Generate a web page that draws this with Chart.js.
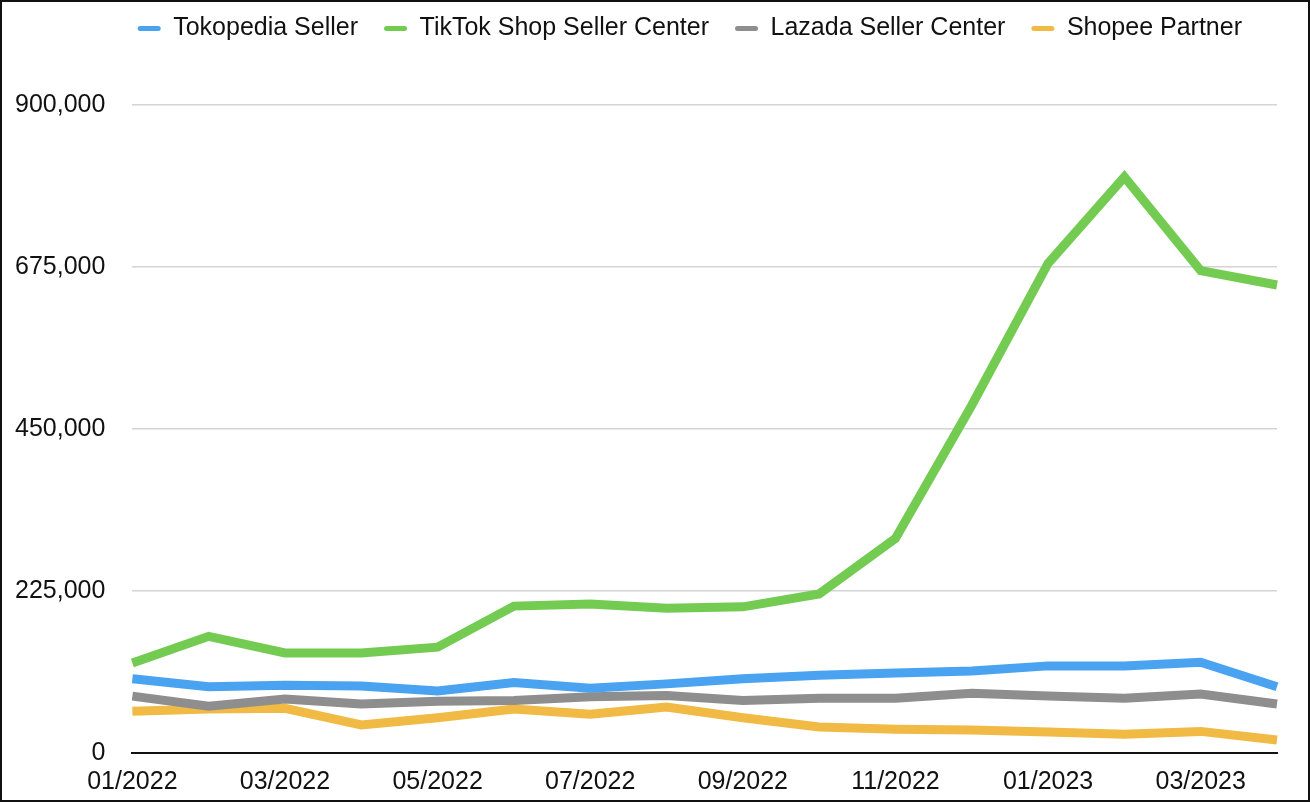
<!DOCTYPE html>
<html>
<head>
<meta charset="utf-8">
<script src="https://cdn.jsdelivr.net/npm/chart.js@4"></script>
<style>
    html, body { margin: 0; padding: 0; background: #fff; }
    #frame { width: 1310px; height: 802px; box-sizing: border-box; border: 2px solid #111; }
    canvas { display: block; }
</style>
</head>
<body>
<div id="frame"><canvas id="chart" width="1306" height="798"></canvas></div>
<script>
// months shown on x axis
var months = ['01/2022', '02/2022', '03/2022', '04/2022', '05/2022', '06/2022', '07/2022', '08/2022',
    '09/2022', '10/2022', '11/2022', '12/2022', '01/2023', '02/2023', '03/2023', '04/2023'];

var tokopedia = [103000, 92000, 94000, 93000, 86000, 98000, 90000, 96000, 103000, 108000, 111000, 114000, 121000, 121000, 126000, 92000];
var tiktok = [125000, 162000, 139000, 139000, 147000, 204000, 207000, 201000, 203000, 221000, 298000, 483000, 680000, 800000, 670000, 650000];
var lazada = [79000, 65000, 75000, 68000, 72000, 73000, 78000, 80000, 73000, 76000, 76000, 83000, 79000, 76000, 82000, 68000];
var shopee = [58000, 61000, 62000, 39000, 49000, 61000, 54000, 64000, 49000, 36000, 33000, 32000, 29000, 26000, 30000, 18000];

var yTicks = [0, 225000, 450000, 675000, 900000];

var FONT = '"Liberation Sans", Arial, Helvetica, sans-serif';

function series(label, data, color) {
    return {
        label: label,
        data: data,
        borderColor: color,
        backgroundColor: color,
        borderWidth: 9,
        pointRadius: 0,
        tension: 0,
        fill: false,
        borderJoinStyle: 'miter',
        borderCapStyle: 'butt'
    };
}

// nudge the legend a little to the left of the plot's right edge
var legendShift = {
    id: 'legendShift',
    afterLayout: function (chart) {
        if (chart.legend) {
            chart.legend.right -= 9;
            chart.legend.adjustHitBoxes && chart.legend.adjustHitBoxes();
        }
    }
};

var ctx = document.getElementById('chart').getContext('2d');
window.chart = new Chart(ctx, {
    type: 'line',
    data: {
        labels: months,
        datasets: [
            series('Tokopedia Seller', tokopedia, '#4aa3f0'),
            series('TikTok Shop Seller Center', tiktok, '#74cb52'),
            series('Lazada Seller Center', lazada, '#8e8e8e'),
            series('Shopee Partner', shopee, '#f0ba44')
        ]
    },
    plugins: [legendShift],
    options: {
        responsive: false,
        animation: false,
        layout: { padding: { left: -14, right: 31, top: -12, bottom: -11 } },
        plugins: {
            tooltip: { enabled: false },
            legend: {
                position: 'top',
                align: 'end',
                labels: {
                    color: '#111',
                    font: { family: FONT, size: 25 },
                    boxWidth: 23,
                    boxHeight: 5,
                    padding: 26,
                    useBorderRadius: true,
                    borderRadius: 2.5,
                    generateLabels: function (chart) {
                        var items = Chart.defaults.plugins.legend.labels.generateLabels(chart);
                        items.forEach(function (it) {
                            it.lineWidth = 0;
                            it.strokeStyle = 'rgba(0,0,0,0)';
                        });
                        return items;
                    }
                }
            }
        },
        scales: {
            x: {
                grid: { display: false, drawTicks: false },
                border: { display: true, color: '#111', width: 2 },
                ticks: {
                    autoSkip: false,
                    maxRotation: 0,
                    padding: 14,
                    color: '#111',
                    font: { family: FONT, size: 25 },
                    callback: function (val, i) { return i % 2 === 0 ? months[i] : ''; }
                }
            },
            y: {
                min: 0,
                max: 975000,
                afterBuildTicks: function (axis) {
                    axis.ticks = yTicks.map(function (v) { return { value: v }; });
                },
                grid: { color: '#d4d4d4', lineWidth: 1.5, drawTicks: false },
                border: { display: false },
                ticks: {
                    padding: 27,
                    color: '#111',
                    font: { family: FONT, size: 25 },
                    callback: function (val) { return val.toLocaleString('en-US'); }
                }
            }
        }
    }
});
</script>
</body>
</html>
